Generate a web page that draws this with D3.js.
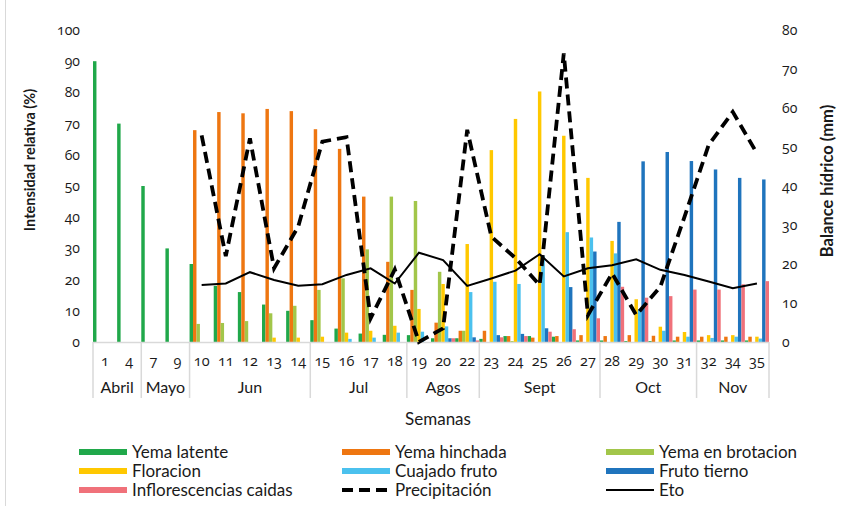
<!DOCTYPE html>
<html><head><meta charset="utf-8">
<script src="https://cdn.jsdelivr.net/npm/d3@7"></script>
<style>
body{margin:0;background:#fff;}
svg{font-family:Lato,"Open Sans",sans-serif;}
.num{font-family:"Open Sans",Lato,sans-serif;font-variant-numeric:oldstyle-nums;font-feature-settings:"onum" 1;}
</style></head>
<body><svg id="c" width="846" height="506"></svg>
<script>
const weeks = ["1","4","7","9","10","11","12","13","14","15","16","17","18","19","20","22","23","24","25","26","27","28","29","30","31","32","34","35"];
const monthNames = ["Abril","Mayo","Jun","Jul","Agos","Sept","Oct","Nov"];
const monthSpans = [2,2,5,4,3,5,4,3];
const leftTicks = [0,10,20,30,40,50,60,70,80,90,100];
const rightTicks = [0,10,20,30,40,50,60,70,80];

const yemaLatente = [90,70,50,30,25,18,16,12,10,7,4.3,2.7,2.3,2.2,1.2,1.2,1,1.9,1.9,1.7,0.5,0.5,0.3,0.3,0.5,0.5,0.5,0.5];
const yemaHinchada = [0,0,0,0,67.9,73.7,73.3,74.7,74,68.2,61.9,46.6,25.7,16.7,6.2,3.6,3.6,1.9,1.4,1.9,2.2,1.9,2.2,2,1.7,1.7,1.7,1.7];
const yemaBrotacion = [0,0,0,0,5.8,6.1,6.7,9.2,11.6,16.7,20.4,29.7,46.6,45.2,22.5,3.6,0,0.3,0,0,0,0,0,0,0,0,0,0];
const floracion = [0,0,0,0,0,0,0,1.4,1.4,1.7,3,3.6,5.2,10.6,18.6,31.4,61.5,71.5,80.3,66.1,52.6,32.4,13.7,4.9,3.2,2.2,2.2,1.7];
const cuajadoFruto = [0,0,0,0,0,0,0,0,0,0,1,1.4,3,3.3,5,16,19.3,18.6,27.5,35.2,33.5,28.4,10.5,3.6,1.7,1.3,1.7,1.1];
const frutoTierno = [0,0,0,0,0,0,0,0,0,0,0,0,0,0,1.2,1.5,2.2,2.6,4.4,17.6,29,38.5,57.9,60.9,58,55.3,52.6,52.1];
const inflorescencias = [0,0,0,0,0,0,0,0,0,0,0,0,0,0,1.2,0.5,1.5,1.9,3.3,4.1,7.6,17.7,14.2,14.7,16.8,16.8,18.5,19.5];
const precipitacion = [null,null,null,null,53,22,52.2,18.9,29.6,51.4,52.5,6.1,18.6,0,3.5,54.4,27,21.5,14.6,74,6.9,17.6,6.9,14.2,32.1,50.5,59,48.4];
const eto = [null,null,null,null,14.6,15,17.9,15.9,14.4,14.8,17.2,18.9,15,22.9,21,14.4,16.3,18.3,22.5,16.8,18.9,19.7,21.2,18.5,17.2,15.5,13.8,15];

const seriesNames = ["Yema latente","Yema hinchada","Yema en brotacion","Floracion","Cuajado fruto","Fruto tierno","Inflorescencias caidas"];
const seriesData = [yemaLatente,yemaHinchada,yemaBrotacion,floracion,cuajadoFruto,frutoTierno,inflorescencias];
const colors = ["#20A84A","#EE7611","#A2C64A","#FFC800","#4BC1EE","#1F74BD","#F0717A"];

const svg = d3.select("#c");
const L = 93, R = 769, T = 30, B = 342;
const txt = "#1a1a1a";

svg.append("line").attr("x1",5.5).attr("x2",5.5).attr("y1",0).attr("y2",506).attr("stroke","#d9d9d9");

const x0 = d3.scaleBand().domain(d3.range(weeks.length)).range([L,R]).paddingInner(0).paddingOuter(0);
const x1 = d3.scaleBand().domain(d3.range(seriesNames.length)).range([0,x0.bandwidth()]).padding(0);
const yL = d3.scaleLinear().domain([0,100]).range([B,T]);
const yR = d3.scaleLinear().domain([0,80]).range([B,T]);

seriesData.forEach((arr,si)=>{
  svg.append("g").selectAll("rect").data(arr).join("rect")
    .attr("x",(d,i)=>x0(i)+x1(si))
    .attr("width",x1.bandwidth())
    .attr("y",d=>yL(d))
    .attr("height",d=>B-yL(d))
    .attr("fill",colors[si]);
});

const axL = d3.axisLeft(yL).tickValues(leftTicks).tickSize(0).tickPadding(13);
const gL = svg.append("g").attr("transform",`translate(${L},0)`).call(axL);
gL.select(".domain").remove();
gL.selectAll("text").attr("class","num").attr("font-size",14).attr("fill",txt).attr("font-family",null);

const axR = d3.axisRight(yR).tickValues(rightTicks).tickSize(0).tickPadding(13);
const gR = svg.append("g").attr("transform",`translate(${R},0)`).call(axR);
gR.select(".domain").remove();
gR.selectAll("text").attr("class","num").attr("font-size",14).attr("fill",txt).attr("font-family",null);

svg.append("line").attr("x1",L).attr("x2",R).attr("y1",B+0.5).attr("y2",B+0.5).attr("stroke","#d9d9d9").attr("stroke-width",1.5);
let acc = 0;
const bounds = [0];
monthSpans.forEach(s=>{acc+=s;bounds.push(acc);});
svg.append("g").selectAll("line").data(bounds).join("line")
  .attr("x1",b=>b<weeks.length?x0(b):R).attr("x2",b=>b<weeks.length?x0(b):R)
  .attr("y1",B).attr("y2",398).attr("stroke","#d9d9d9").attr("stroke-width",1.5);

svg.append("g").selectAll("text").data(weeks).join("text")
  .attr("class","num")
  .attr("x",(d,i)=>x0(i)+x0.bandwidth()/2).attr("y",366)
  .attr("text-anchor","middle").attr("font-size",14.5).attr("fill",txt).text(d=>d);
svg.append("g").selectAll("text").data(monthNames).join("text")
  .attr("x",(d,i)=>{const a=bounds[i],b=bounds[i+1];const xa=x0(a);const xb=b<weeks.length?x0(b):R;return (xa+xb)/2;})
  .attr("y",393).attr("text-anchor","middle").attr("font-size",16).attr("fill",txt).text(d=>d);

const xc = i=>x0(i)+x0.bandwidth()/2;
const lineP = d3.line().defined(d=>d!=null).x((d,i)=>xc(i)).y(d=>yR(d));
svg.append("path").datum(precipitacion).attr("d",lineP).attr("fill","none")
  .attr("stroke","#000").attr("stroke-width",3.8).attr("stroke-dasharray","11,6");
svg.append("path").datum(eto).attr("d",lineP).attr("fill","none")
  .attr("stroke","#000").attr("stroke-width",2);

svg.append("text").attr("transform","translate(35,160) rotate(-90)").attr("text-anchor","middle")
  .attr("font-size",14.5).attr("font-weight","bold").attr("fill",txt).text("Intensidad relativa (%)");
svg.append("text").attr("transform","translate(833,181) rotate(-90)").attr("text-anchor","middle")
  .attr("font-size",16.5).attr("font-weight","bold").attr("fill",txt).text("Balance hídrico (mm)");
svg.append("text").attr("x",438).attr("y",425).attr("text-anchor","middle")
  .attr("font-size",17).attr("fill",txt).text("Semanas");

const legendItems = [
  {name:"Yema latente",type:"bar",c:colors[0]},
  {name:"Yema hinchada",type:"bar",c:colors[1]},
  {name:"Yema en brotacion",type:"bar",c:colors[2]},
  {name:"Floracion",type:"bar",c:colors[3]},
  {name:"Cuajado fruto",type:"bar",c:colors[4]},
  {name:"Fruto tierno",type:"bar",c:colors[5]},
  {name:"Inflorescencias caidas",type:"bar",c:colors[6]},
  {name:"Precipitación",type:"dash",c:"#000"},
  {name:"Eto",type:"line",c:"#000"}
];
const colX = [79,342,606];
const rowY = [452,471,490];
const lg = svg.append("g");
legendItems.forEach((it,i)=>{
  const cx = colX[i%3], cy = rowY[Math.floor(i/3)];
  if(it.type==="bar"){
    lg.append("rect").attr("x",cx).attr("y",cy-3).attr("width",48).attr("height",6).attr("fill",it.c);
  } else if(it.type==="dash"){
    lg.append("line").attr("x1",cx).attr("x2",cx+48).attr("y1",cy).attr("y2",cy).attr("stroke","#000").attr("stroke-width",3.8).attr("stroke-dasharray","11,6");
  } else {
    lg.append("line").attr("x1",cx).attr("x2",cx+48).attr("y1",cy).attr("y2",cy).attr("stroke","#000").attr("stroke-width",2);
  }
  lg.append("text").attr("x",cx+53).attr("y",cy+6).attr("font-size",17).attr("fill",txt)
    .text(it.name);
});
</script></body></html>
